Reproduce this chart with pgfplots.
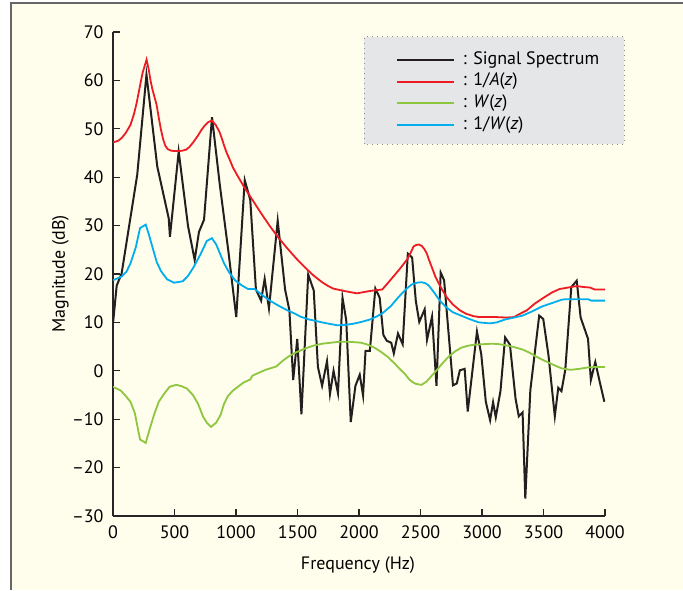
\documentclass[border=0pt]{standalone}
\usepackage{fontspec}
\setmainfont{PT Sans}
\usepackage{pgfplots}
\pgfplotsset{compat=1.18}
\definecolor{cream}{RGB}{255,253,236}
\definecolor{legendgray}{RGB}{229,230,232}
\definecolor{sigblack}{RGB}{35,31,32}
\definecolor{ared}{RGB}{237,28,36}
\definecolor{wgreen}{RGB}{141,198,63}
\definecolor{wblue}{RGB}{0,174,239}

\begin{document}
\begin{tikzpicture}
\useasboundingbox (0pt,0pt) rectangle (341.5pt,295pt);
\fill[cream] (5.5pt,0pt) rectangle (341.5pt,293.5pt);
\draw[black!60, line width=0.7pt] (5.5pt,0pt) -- (5.5pt,293.5pt) -- (341.5pt,293.5pt);
% legend background box
\draw[fill=legendgray, draw=black!45, dotted, line width=0.5pt] (182pt,223pt) rectangle (312pt,276.5pt);
\begin{axis}[
    at={(56.5pt,37pt)}, anchor=south west,
    scale only axis, width=246pt, height=242pt,
    xmin=0, xmax=4000, ymin=-30, ymax=70,
    axis lines=left,
    axis line style={-, line width=0.6pt, black!85},
    tick align=inside, major tick length=3.5pt,
    tick style={black!85, line width=0.6pt},
    xtick={0,500,...,4000},
    ytick={-30,-20,...,70},
    yticklabels={--30,--20,--10,0,10,20,30,40,50,60,70},
    /pgf/number format/assume math mode=true,
    /pgf/number format/1000 sep={},
    tick label style={font=\fontsize{9}{11}\selectfont},
    yticklabel style={xshift=-1.2pt},
    xticklabel style={yshift=-1.5pt},
    xlabel={Frequency (Hz)}, ylabel={Magnitude (dB)},
    label style={font=\fontsize{9}{11}\selectfont},
    xlabel style={at={(axis description cs:0.498,-0.101)}, anchor=center},
    ylabel style={at={(axis description cs:-0.107,0.5)}, anchor=center},
    legend style={at={(axis description cs:0.5752,0.965)}, anchor=north west,
        draw=none, fill=none, inner sep=0pt,
        font=\fontsize{9}{11}\selectfont,
        nodes={inner xsep=0pt, inner ysep=0.6pt, text height=6.9pt, text depth=2.7pt},
        /tikz/every odd column/.append style={column sep=3.8pt}},
    legend cell align=left,
    legend image code/.code={\draw[#1] (0pt,0pt) -- (28.5pt,0pt);},
]

\addplot[sigblack, line width=1pt] coordinates {
(0,9.8) (30,17.6) (70,20.1) (197,40.5) (272,61.2) (360,42.2) (407,36.8) (453,31.5) (463,27.7)
(534,45.3) (610,29.9) (664,22.9) (699,28.7) (740,31.2) (805,52.4) (868,38.5) (939,24.5) (1002,11.1)
(1071,39.4) (1116,35.3) (1162,16.8) (1204,14.5) (1233,19) (1268,12.9) (1339,31) (1399,16.8)
(1434,12.5) (1465,-1.9) (1498,6.6) (1532,-9) (1587,19.9) (1632,16.6) (1666,0.8) (1700,-3.1)
(1740,2) (1764,-4.8) (1793,0) (1829,-4.6) (1866,15.1) (1896,10.5) (1933,-10.6) (1971,-3.1)
(2006,-0.8) (2033,-5.1) (2053,4.1) (2088,4.1) (2133,17) (2168,15.1) (2198,7.4) (2226,6.2)
(2262,5.8) (2283,3.6) (2317,7.7) (2355,5.5) (2397,24.2) (2432,23.4) (2462,14.4) (2490,10.1)
(2534,12.7) (2553,6.4) (2594,11.2) (2630,-3.1) (2664,20.3) (2692,18.7) (2764,-3) (2795,-2.6)
(2820,0.1) (2859,0.4) (2884,-8.4) (2959,8.1) (2994,3.4) (3031,-6.4) (3066,-10.2) (3090,-6.5)
(3112,-9.6) (3150,-4.2) (3188,6.9) (3227,5.4) (3273,-5.8) (3299,-9.4) (3330,-8.6) (3352,-26.4)
(3393,-4) (3465,11.4) (3498,10.7) (3540,3.3) (3592,-9.4) (3620,-3.5) (3646,-4.2) (3677,0.2)
(3726,17.3) (3770,18.6) (3802,11) (3862,6.6) (3885,-1.9) (3921,1.8) (3960,-2.6) (3995,-6.4)
};
\addlegendentry{: Signal Spectrum}

\addplot[ared, line width=0.9pt] coordinates {
(0,47.2) (40,47.5) (71,48.1) (105,49.2) (142,50.8) (170,53) (192,55.3) (215,58.3) (240,61.5)
(273,64.3) (290,62.3) (305,60) (319,58.3) (337,56.6) (354,55) (372,52.3) (390,49.8) (408,47.8)
(425,46.5) (445,45.8) (470,45.5) (496,45.4) (540,45.4) (567,45.5) (595,45.7) (620,46.2) (655,47.3)
(691,48.6) (720,49.8) (744,50.6) (775,51.4) (804,51.7) (835,50.8) (865,49.4) (885,48) (905,46.4)
(925,45) (946,43.8) (975,42) (1010,40.4) (1070,37.8) (1134,35.3) (1200,32.7) (1275,29.9)
(1345,27.5) (1417,25.3) (1490,23.2) (1559,21.4) (1630,19.7) (1700,18.3) (1750,17.5) (1789,17)
(1877,16.5) (1983,16) (2090,16.5) (2189,16.8) (2230,18) (2267,19.1) (2330,21) (2391,23)
(2420,24.4) (2444,25.7) (2465,26) (2487,26.1) (2510,25.8) (2530,25.2) (2550,24.3) (2568,23)
(2586,21.8) (2620,19.5) (2657,17.6) (2710,15.3) (2763,13.7) (2820,12.5) (2869,11.8) (2930,11.3)
(2976,11.1) (3049,11.1) (3117,11.1) (3200,11) (3259,11.1) (3310,11.8) (3365,12.5) (3430,13.9)
(3507,15.2) (3570,16.2) (3631,16.9) (3700,17.2) (3767,17.5) (3830,17.3) (3879,17.2) (3916,16.8)
(4000,16.8)
};
\addlegendentry{: 1/\textit{A}(\textit{z})}

\addplot[wgreen, line width=0.9pt] coordinates {
(0,-3.3) (64,-4.1) (110,-5.4) (142,-6.4) (177,-8.7) (220,-14.2) (266,-14.9) (301,-11.8) (335,-9)
(372,-6.4) (420,-4.6) (460,-3.3) (514,-2.9) (560,-3.2) (602,-3.7) (650,-5) (691,-6.8) (733,-9.5)
(765,-10.8) (797,-11.6) (839,-10.7) (875,-9.1) (903,-6.8) (935,-5.2) (974,-4.1) (1063,-2.4)
(1116,-1.8) (1134,-1) (1204,-0.2) (1240,0.2) (1328,0.9) (1381,2.1) (1430,3) (1488,3.8)
(1560,4.6) (1630,5.2) (1700,5.6) (1771,5.8) (1840,6) (1913,6) (1970,5.9) (2019,5.8) (2070,5.4)
(2125,4.8) (2180,3.9) (2232,2.9) (2290,1.5) (2338,0.2) (2375,-0.7) (2409,-1.8) (2440,-2.4)
(2462,-2.7) (2508,-2.9) (2550,-2.2) (2585,-1.2) (2621,-0.2) (2680,1.6) (2728,2.9) (2780,4)
(2834,4.8) (2890,5.2) (2940,5.4) (3010,5.5) (3082,5.6) (3140,5.5) (3188,5.3) (3260,4.9)
(3330,4.4) (3390,3.7) (3436,3) (3490,2.3) (3542,1.7) (3600,1) (3649,0.5) (3719,0.2) (3790,0.4)
(3861,0.7) (3930,0.8) (4000,0.8)
};
\addlegendentry{: \textit{W}(\textit{z})}

\addplot[wblue, line width=0.9pt] coordinates {
(0,18.7) (71,19.5) (110,20.5) (142,22.2) (185,25.5) (220,29.5) (266,30.2) (290,28.3) (319,25.7)
(355,22.5) (390,20.6) (440,18.9) (496,18.2) (567,18.5) (610,19.6) (655,21.4) (710,24) (762,26.8)
(804,27.4) (839,26.1) (870,24.2) (903,22.2) (945,20.3) (992,18.7) (1050,17.6) (1098,16.9)
(1151,16.9) (1210,15.7) (1275,14.5) (1350,13.4) (1417,12.5) (1480,11.8) (1523,11.2) (1594,10.6)
(1650,10.3) (1700,10) (1760,9.7) (1824,9.4) (1890,9.5) (1948,9.7) (2020,10.1) (2090,10.6)
(2150,11.3) (2196,12) (2260,13.4) (2320,15.2) (2380,16.8) (2426,17.8) (2470,18.2) (2508,18.3)
(2540,18.1) (2568,17.6) (2610,16.2) (2657,14.5) (2710,13.1) (2763,12.1) (2830,11.4) (2887,10.8)
(2940,10.3) (2976,10) (3020,9.9) (3064,9.8) (3120,10) (3188,10.6) (3260,11) (3330,11.4)
(3410,12.3) (3489,13.3) (3570,14) (3649,14.7) (3686,14.8) (3755,14.8) (3861,14.8) (3890,14.5)
(4000,14.5)
};
\addlegendentry{: 1/\textit{W}(\textit{z})}

\end{axis}
\end{tikzpicture}
\end{document}
